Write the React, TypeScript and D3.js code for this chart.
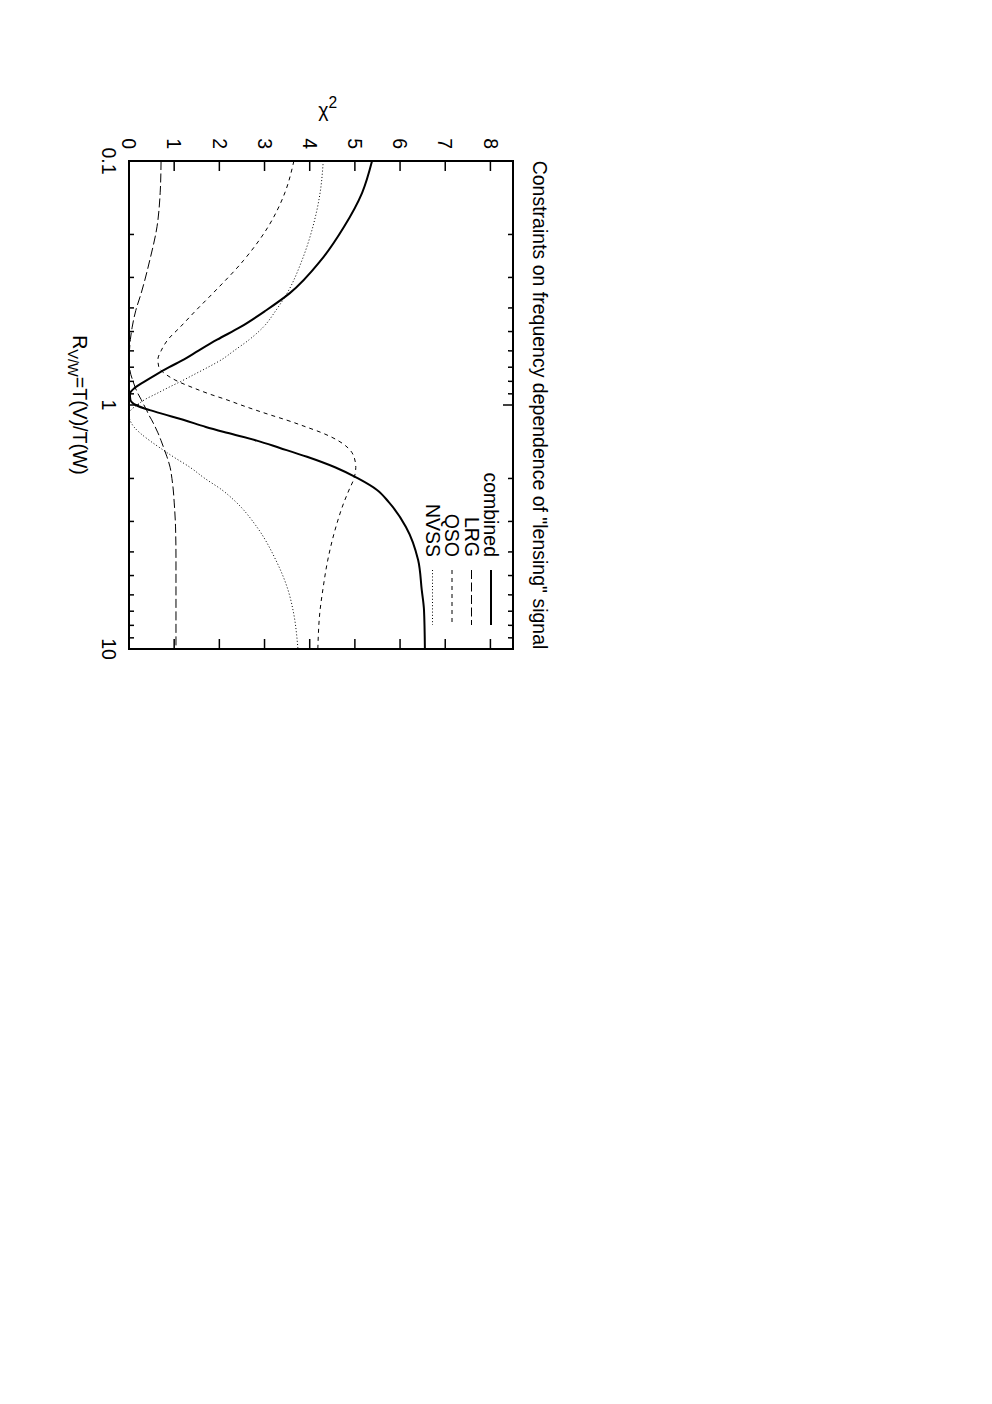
import React, { useEffect, useRef } from "react";
import * as d3 from "d3";

// R_{V/W} sample points (log axis) shared by all curves
const rValues = [0.1, 0.135, 0.186, 0.255, 0.348, 0.41, 0.48, 0.54, 0.6, 0.65, 0.7, 0.75, 0.8, 0.85, 0.9, 0.95, 1.0, 1.05, 1.1, 1.15, 1.23, 1.3, 1.4, 1.5, 1.63, 1.8, 2.0, 2.23, 2.5, 3.16, 4.32, 5.73, 6.92, 10];

// chi^2 per survey
const combined = [5.38, 5.16, 4.76, 4.25, 3.56, 3.03, 2.46, 1.95, 1.53, 1.22, 0.89, 0.6, 0.35, 0.13, 0.02, 0.03, 0.15, 0.46, 0.84, 1.2, 1.7, 2.17, 2.83, 3.34, 3.94, 4.56, 5.07, 5.49, 5.75, 6.13, 6.4, 6.48, 6.53, 6.55];
const lrg = [0.71, 0.69, 0.62, 0.46, 0.27, 0.15, 0.07, 0.03, 0.01, 0.0, 0.01, 0.04, 0.09, 0.14, 0.2, 0.27, 0.33, 0.39, 0.44, 0.5, 0.58, 0.64, 0.71, 0.77, 0.84, 0.91, 0.95, 0.98, 1.0, 1.03, 1.04, 1.04, 1.04, 1.04];
const qso = [3.65, 3.45, 3.08, 2.54, 1.86, 1.48, 1.13, 0.86, 0.71, 0.64, 0.66, 0.82, 1.08, 1.42, 1.77, 2.15, 2.48, 2.81, 3.14, 3.47, 3.92, 4.27, 4.63, 4.85, 4.98, 5.02, 4.98, 4.87, 4.76, 4.58, 4.4, 4.29, 4.23, 4.18];
const nvss = [4.3, 4.23, 4.07, 3.83, 3.5, 3.25, 2.97, 2.66, 2.32, 2.06, 1.75, 1.44, 1.15, 0.86, 0.6, 0.35, 0.18, 0.04, 0.0, 0.02, 0.11, 0.24, 0.46, 0.69, 0.98, 1.35, 1.68, 2.06, 2.37, 2.83, 3.25, 3.52, 3.63, 3.74];

const seriesNames = ["combined", "LRG", "QSO", "NVSS"];
const seriesValues = [combined, lrg, qso, nvss];

const chiTicks = [0, 1, 2, 3, 4, 5, 6, 7, 8];
const rMajorTicks = [0.1, 1, 10];
const rTickLabels = ["0.1", "1", "10"];

const FONT = "'Liberation Sans', Arial, Helvetica, sans-serif";
const FS = 19.5;

export default function App() {
  const ref = useRef<SVGSVGElement | null>(null);

  useEffect(() => {
    const svg = d3.select(ref.current);
    svg.selectAll("*").remove();

    // plot drawn in its native landscape frame, then turned 90deg clockwise
    const W = 488;
    const H = 384;
    const ox = 513;
    const oy = 161;

    const x = d3.scaleLog().domain([0.1, 10]).range([0, W]);
    const y = d3.scaleLinear().domain([0, 8.5]).range([H, 0]);

    svg.append("rect").attr("width", 992).attr("height", 1404).attr("fill", "#fff");

    const g = svg.append("g").attr("transform", `translate(${ox},${oy}) rotate(90)`);

    // styles per series
    const styles = [
      { width: 2, dash: null as string | null },
      { width: 1, dash: "9,3.5" },
      { width: 1, dash: "4,4" },
      { width: 1, dash: "1,2.2" },
    ];

    const line = d3
      .line<[number, number]>()
      .x((d) => x(d[0]))
      .y((d) => y(d[1]))
      .curve(d3.curveMonotoneX);

    const curves = g.append("g");
    seriesValues.forEach((vals, i) => {
      const pts = rValues.map((r, j) => [r, vals[j]] as [number, number]);
      curves
        .append("path")
        .attr("d", line(pts))
        .attr("fill", "none")
        .attr("stroke", "#000")
        .attr("stroke-width", styles[i].width)
        .attr("stroke-dasharray", styles[i].dash);
    });

    // ticks
    const ticks = g.append("g").attr("stroke", "#000").attr("stroke-width", 1.5);
    chiTicks.forEach((t) => {
      ticks.append("line").attr("x1", 0).attr("x2", 10).attr("y1", y(t)).attr("y2", y(t));
      ticks.append("line").attr("x1", W).attr("x2", W - 10).attr("y1", y(t)).attr("y2", y(t));
    });
    const minor: number[] = [];
    [0.1, 1].forEach((dec) => {
      for (let k = 2; k <= 9; k++) minor.push(dec * k);
    });
    minor.forEach((r) => {
      ticks.append("line").attr("x1", x(r)).attr("x2", x(r)).attr("y1", H).attr("y2", H - 5);
      ticks.append("line").attr("x1", x(r)).attr("x2", x(r)).attr("y1", 0).attr("y2", 5);
    });
    rMajorTicks.forEach((r) => {
      ticks.append("line").attr("x1", x(r)).attr("x2", x(r)).attr("y1", H).attr("y2", H - 10);
      ticks.append("line").attr("x1", x(r)).attr("x2", x(r)).attr("y1", 0).attr("y2", 10);
    });

    // frame
    g.append("rect")
      .attr("width", W)
      .attr("height", H)
      .attr("fill", "none")
      .attr("stroke", "#000")
      .attr("stroke-width", 2);

    const txt = g.append("g").style("font-family", FONT).style("font-size", `${FS}px`).attr("fill", "#000");

    chiTicks.forEach((t) => {
      txt.append("text").attr("x", -12).attr("y", y(t)).attr("dy", "0.35em").attr("text-anchor", "end").text(t);
    });
    rMajorTicks.forEach((r, i) => {
      txt.append("text").attr("x", x(r)).attr("y", H + 27).attr("text-anchor", "middle").text(rTickLabels[i]);
    });

    // title
    txt.append("text")
      .attr("x", W / 2)
      .attr("y", -20)
      .attr("text-anchor", "middle")
      .text('Constraints on frequency dependence of "lensing" signal');

    // x label
    const xl = txt.append("text").attr("x", W / 2).attr("y", H + 56).attr("text-anchor", "middle");
    xl.append("tspan").text("R");
    xl.append("tspan").attr("dy", 5).style("font-size", `${FS * 0.75}px`).text("V/W");
    xl.append("tspan").attr("dy", -5).text("=T(V)/T(W)");

    // legend
    const rowV = [22, 41.5, 61, 80.5];
    seriesNames.forEach((name, i) => {
      txt.append("text").attr("x", 396).attr("y", rowV[i]).attr("dy", "0.35em").attr("text-anchor", "end").text(name);
      g.append("line")
        .attr("x1", 409)
        .attr("x2", 464)
        .attr("y1", rowV[i])
        .attr("y2", rowV[i])
        .attr("stroke", "#000")
        .attr("stroke-width", styles[i].width)
        .attr("stroke-dasharray", styles[i].dash);
    });

    // y label (upright after the rotation)
    const yl = svg
      .append("text")
      .attr("x", ox - y(4.4))
      .attr("y", 117)
      .attr("text-anchor", "middle")
      .style("font-family", FONT)
      .style("font-size", `${FS}px`);
    yl.append("tspan").text("χ");
    yl.append("tspan").attr("dy", -9).style("font-size", `${FS * 0.8}px`).text("2");
  }, []);

  return (
    <svg
      ref={ref}
      width={992}
      height={1404}
      style={{ position: "absolute", left: 0, top: 0, display: "block" }}
    />
  );
}
